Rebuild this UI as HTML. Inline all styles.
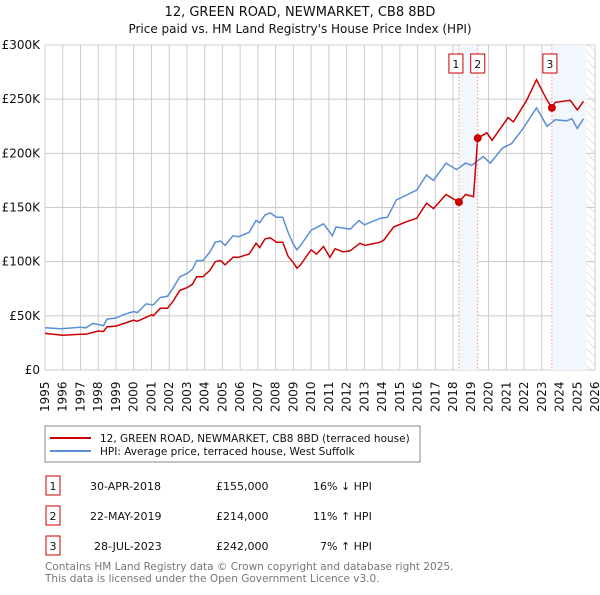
<!DOCTYPE html>
<html><head><meta charset="utf-8"><style>
body{margin:0;background:#fff;font-family:"Liberation Sans","DejaVu Sans",sans-serif;}
svg text{font-family:"DejaVu Sans","Liberation Sans",sans-serif;}
</style></head><body>
<svg id="chart" width="600" height="590" viewBox="0 0 600 590">
<defs><pattern id="hatch" width="6" height="6" patternUnits="userSpaceOnUse" patternTransform="rotate(-45)"><line x1="0" y1="0" x2="0" y2="6" stroke="#ccc" stroke-width="1"/></pattern></defs>
<text x="300" y="16" text-anchor="middle" font-size="13" fill="#111">12, GREEN ROAD, NEWMARKET, CB8 8BD</text>
<text x="300" y="33" text-anchor="middle" font-size="12" fill="#111">Price paid vs. HM Land Registry's House Price Index (HPI)</text>
<g id="grid"></g><g id="shade"></g><g id="lines"></g><g id="marks"></g><g id="axes"></g>
<rect x="45" y="426" width="375" height="36" fill="#fff" stroke="#888"/>
<line x1="50" y1="438" x2="91" y2="438" stroke="#cc0000" stroke-width="2"/>
<text x="100" y="442" font-size="10.5" fill="#111">12, GREEN ROAD, NEWMARKET, CB8 8BD (terraced house)</text>
<line x1="50" y1="451" x2="91" y2="451" stroke="#5b8fd4" stroke-width="2"/>
<text x="100" y="455" font-size="10.5" fill="#111">HPI: Average price, terraced house, West Suffolk</text>
<g font-size="11" fill="#111">
<rect x="46" y="476" width="14" height="19" fill="#fff" stroke="#cc0000"/><text x="53" y="490" text-anchor="middle">1</text>
<text x="90" y="490">30-APR-2018</text><text x="216" y="490">£155,000</text><text x="313" y="490">16% ↓ HPI</text>
<rect x="46" y="506" width="14" height="19" fill="#fff" stroke="#cc0000"/><text x="53" y="520" text-anchor="middle">2</text>
<text x="90" y="520">22-MAY-2019</text><text x="216" y="520">£214,000</text><text x="313" y="520">11% ↑ HPI</text>
<rect x="46" y="536" width="14" height="19" fill="#fff" stroke="#cc0000"/><text x="53" y="550" text-anchor="middle">3</text>
<text x="94" y="550">28-JUL-2023</text><text x="216" y="550">£242,000</text><text x="320" y="550">7% ↑ HPI</text>
</g>
<text x="45" y="570" font-size="10.5" fill="#777">Contains HM Land Registry data © Crown copyright and database right 2025.</text>
<text x="45" y="582" font-size="10.5" fill="#777">This data is licensed under the Open Government Licence v3.0.</text>
</svg>
<script>
const hpiYears=[1995,1995.9,1997,1997.3,1997.7,1998.3,1998.5,1999,1999.4,2000,2000.2,2000.7,2001.1,2001.5,2001.9,2002.2,2002.6,2003,2003.3,2003.55,2003.9,2004.3,2004.6,2004.9,2005.15,2005.6,2005.9,2006.5,2006.9,2007.1,2007.4,2007.7,2008.05,2008.4,2008.7,2009,2009.2,2009.4,2010,2010.7,2011.2,2011.4,2012.2,2012.7,2013,2013.9,2014.3,2014.8,2015.95,2016.5,2016.9,2017.6,2018.2,2018.7,2019.05,2019.7,2020.1,2020.8,2021.3,2021.95,2022.7,2023.3,2023.75,2024.4,2024.7,2025,2025.35];
const hpiValues=[39,38,39.5,39,43,41,47,48,51,54,53,61,60,67,68,75,86,89,93,101,101,109,118,119,115,124,123,127,138,136,143,145,141,141,127,116,111,115,129,135,124,132,130,138,134,140,141,157,166,180,175,191,185,191,189,197,191,205,209,223,242,225,231,230,232,223,232];
const priceYears=[1995,1996,1997,1997.3,1998,1998.3,1998.5,1999,2000,2000.2,2001,2001.1,2001.5,2001.9,2002.2,2002.6,2003,2003.3,2003.55,2003.9,2004.3,2004.6,2004.9,2005.15,2005.6,2005.9,2006.5,2006.9,2007.1,2007.4,2007.7,2008.05,2008.4,2008.7,2009,2009.2,2009.4,2010,2010.3,2010.7,2011.06,2011.35,2011.8,2012.2,2012.75,2013.05,2013.9,2014.1,2014.65,2015.4,2015.95,2016.5,2016.9,2017.6,2018.33,2018.7,2019.15,2019.39,2019.9,2020.2,2020.75,2021.1,2021.4,2022.15,2022.7,2023.3,2023.57,2023.75,2024.6,2025,2025.35];
const priceValues=[33.8,32,33,33,36,35.5,40,40.5,46,45,51,50,57,57,63,73.5,76,79,86,86,92,100,101,97,104,104,107,117,113,121,122,118,118,105,99,94,97,111,107,114,104,112,109,110,117,115,118,120,132,137,140,154,149,162,155,162,160,214,219,212,225,233,229,249,268,249,242,247,249,240,248];
const saleYears=[2018.33,2019.39,2023.57];
const saleValues=[155,214,242];
const saleLabels=["1","2","3"];
const yTicks=[0,50,100,150,200,250,300];
const yTickLabels=["£0","£50K","£100K","£150K","£200K","£250K","£300K"];
const xTicks=[1995,1996,1997,1998,1999,2000,2001,2002,2003,2004,2005,2006,2007,2008,2009,2010,2011,2012,2013,2014,2015,2016,2017,2018,2019,2020,2021,2022,2023,2024,2025,2026];
const NS="http://www.w3.org/2000/svg";
const X0=45,X1=595,Y0=370,Y1=45;
function sx(y){return X0+(y-1995)/31*(X1-X0);}
function sy(v){return Y0-v/300*(Y0-Y1);}
function mk(tag,attrs,parent){const e=document.createElementNS(NS,tag);for(const k in attrs)e.setAttribute(k,attrs[k]);document.getElementById(parent).appendChild(e);return e;}
let s1=mk('rect',{x:sx(saleYears[0]),y:Y1,width:sx(saleYears[1])-sx(saleYears[0]),height:Y0-Y1,fill:'#f2f6fd'},'shade');


let s2=mk('rect',{x:sx(saleYears[2]),y:Y1,width:sx(2025.5)-sx(saleYears[2]),height:Y0-Y1,fill:'#f2f6fd'},'shade');


let h=mk('rect',{x:sx(2025.5),y:Y1,width:X1-sx(2025.5),height:Y0-Y1,fill:'url(#hatch)'},'shade');


yTicks.forEach((t,i)=>{
 let l=mk('line',{x1:X0,x2:X1,y1:sy(t),y2:sy(t),stroke:'#ccc'},'grid');
 
 
 let tx=mk('text',{x:40,y:sy(t)+4,'text-anchor':'end','font-size':12,fill:'#111'},'axes');tx.textContent=yTickLabels[i];
 
 
});
xTicks.forEach(t=>{
 let l=mk('line',{x1:sx(t),x2:sx(t),y1:Y1,y2:Y0,stroke:'#ccc'},'grid');
 
 
 let tx=mk('text',{x:0,y:0,'font-size':12,fill:'#111',transform:`translate(${sx(t)+4},412) rotate(-90)`},'axes');tx.textContent=t;
 
 
});
saleYears.forEach((y,i)=>{
 let l=mk('line',{x1:sx(y),x2:sx(y),y1:Y1,y2:Y0,stroke:'#f08080','stroke-dasharray':'1.5,2','stroke-width':0.8},'marks');
 
 
});
function path(xs,vs){return xs.map((x,i)=>(i?'L':'M')+sx(x).toFixed(1)+','+sy(vs[i]).toFixed(1)).join('');}
let hp=mk('path',{d:path(hpiYears,hpiValues),fill:'none',stroke:'#5b8fd4','stroke-width':1.5},'lines');


let pp=mk('path',{d:path(priceYears,priceValues),fill:'none',stroke:'#cc0000','stroke-width':1.5},'lines');


saleYears.forEach((y,i)=>{
 let c=mk('circle',{cx:sx(y),cy:sy(saleValues[i]),r:4,fill:'#cc0000'},'marks');
 
 
 const rx=[sx(y)-10,sx(y)-7,sx(y)-9][i];
 let r=mk('rect',{x:rx,y:54,width:14,height:19,fill:'#fff',stroke:'#cc0000'},'marks');
 
 
 let t=mk('text',{x:rx+7,y:68,'text-anchor':'middle','font-size':11,fill:'#111'},'marks');t.textContent=saleLabels[i];
 
 
});
</script>
</body></html>
